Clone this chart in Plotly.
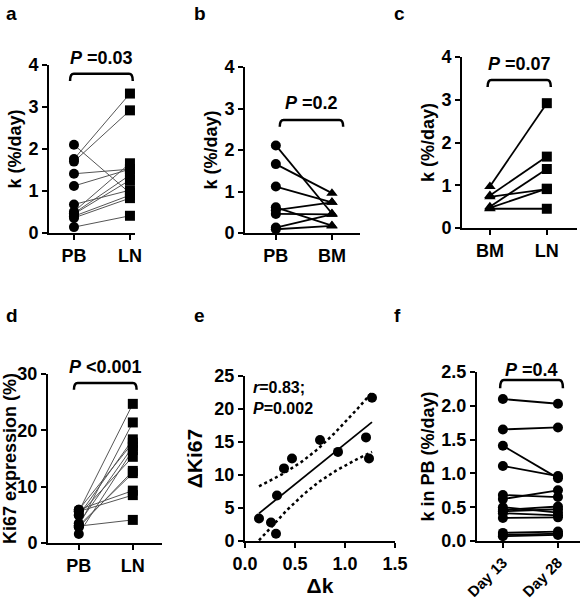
import numpy as np
import plotly.graph_objects as go

W, H = 586, 600

# ---------------- data ----------------
# a: k (%/day) PB vs LN
a_pb = [2.10, 1.76, 1.70, 1.41, 1.12, 0.68, 0.51, 0.47, 0.45, 0.40, 0.36, 0.14]
a_ln = [0.95, 3.32, 2.92, 1.52, 1.52, 1.02, 1.66, 1.38, 1.26, 0.90, 0.83, 0.41]
a_cats = ["PB", "LN"]
# b: PB vs BM
b_pb = [2.11, 1.66, 1.12, 0.62, 0.55, 0.46, 0.13, 0.09]
b_bm = [0.47, 0.96, 0.74, 0.18, 0.74, 0.45, 0.45, 0.17]
b_cats = ["PB", "BM"]
# c: BM vs LN
c_bm = [0.97, 0.76, 0.73, 0.50, 0.47, 0.45]
c_ln = [2.92, 1.67, 0.91, 1.38, 0.92, 0.45]
c_cats = ["BM", "LN"]
# d: Ki67 expression (%) PB vs LN
d_pb = [5.6, 3.0, 4.9, 5.9, 3.5, 5.0, 2.8, 3.1, 5.9, 5.6, 3.0, 1.6]
d_ln = [24.7, 21.4, 18.4, 17.8, 17.1, 15.3, 12.8, 12.4, 9.3, 8.5, 4.1, 16.5]
d_cats = ["PB", "LN"]
# e: delta k vs delta Ki67
e_dk = [0.14, 0.26, 0.31, 0.32, 0.39, 0.47, 0.75, 0.93, 1.21, 1.24, 1.27]
e_dki67 = [3.4, 2.8, 1.1, 6.9, 11.0, 12.5, 15.3, 13.5, 15.7, 12.5, 21.7]
# f: k in PB day 13 vs day 28
f_d13 = [2.10, 1.65, 1.41, 1.11, 0.68, 0.62, 0.50, 0.46, 0.44, 0.41, 0.34, 0.12, 0.09, 0.07]
f_d28 = [2.03, 1.68, 0.93, 0.96, 0.65, 0.75, 0.42, 0.51, 0.47, 0.38, 0.35, 0.14, 0.11, 0.09]
f_cats = ["Day 13", "Day 28"]

FONT = "Liberation Sans"

fig = go.Figure()

def sfx(i):
    return "" if i == 1 else str(i)

def px2paper_x(x0, x1):
    return [x0 / W, x1 / W]

def px2paper_y(ytop, ybot):
    return [1 - ybot / H, 1 - ytop / H]

axis_common = dict(showline=True, linewidth=2, linecolor="black", ticks="outside",
                   ticklen=5, tickwidth=2, tickcolor="black", showgrid=False,
                   zeroline=False, automargin=False,
                   tickfont=dict(family=FONT, size=18, color="black", weight="bold"))

def add_axes(i, xpx, ypx, xrange, yrange, ytickvals, ytitle, xcats=None, xtickangle=0,
             yfmt=None, xtickvals=None, xfmt=None, ystand=2, xtitle=None, ytsize=18,
             ytweight="bold"):
    s = sfx(i)
    xa = dict(axis_common, domain=px2paper_x(*xpx), range=xrange, anchor=f"y{s}")
    if xcats is not None:
        xa.update(tickmode="array", tickvals=list(range(len(xcats))), ticktext=xcats,
                  tickangle=xtickangle)
    else:
        xa.update(tickmode="array", tickvals=xtickvals, tickformat=xfmt)
    if xtitle:
        xa.update(title=dict(text=xtitle, font=dict(family=FONT, size=21, color="black",
                                                    weight="bold"), standoff=4))
    ya = dict(axis_common, domain=px2paper_y(*ypx), range=yrange, anchor=f"x{s}",
              tickmode="array", tickvals=ytickvals,
              title=dict(text=ytitle, font=dict(family=FONT, size=ytsize, color="black",
                                                weight=ytweight),
                         standoff=ystand))
    if yfmt:
        ya.update(tickformat=yfmt)
    fig.layout[f"xaxis{s}"] = xa
    fig.layout[f"yaxis{s}"] = ya

def paired(i, v0, v1, sym0, sym1, lw, lcol, msize=10):
    s = sfx(i)
    xs, ys = [], []
    for p, q in zip(v0, v1):
        xs += [0, 1, None]
        ys += [p, q, None]
    fig.add_trace(go.Scatter(x=xs, y=ys, mode="lines", line=dict(color=lcol, width=lw),
                             xaxis=f"x{s}", yaxis=f"y{s}", showlegend=False, hoverinfo="skip",
                             cliponaxis=False))
    fig.add_trace(go.Scatter(x=[0] * len(v0), y=v0, mode="markers",
                             marker=dict(symbol=sym0, size=msize, color="black"),
                             xaxis=f"x{s}", yaxis=f"y{s}", showlegend=False, cliponaxis=False))
    fig.add_trace(go.Scatter(x=[1] * len(v1), y=v1, mode="markers",
                             marker=dict(symbol=sym1, size=msize, color="black"),
                             xaxis=f"x{s}", yaxis=f"y{s}", showlegend=False, cliponaxis=False))

shapes = []
annos = []

def bracket(i, yr, x0, x1, ytop, ylow, text, ytext):
    s = sfx(i)
    dx = (x1 - x0) * 0.06
    path = (f"M {x0},{ylow} Q {x0},{ytop} {x0+dx},{ytop} L {x1-dx},{ytop} "
            f"Q {x1},{ytop} {x1},{ylow}")
    shapes.append(dict(type="path", path=path, xref=f"x{s}", yref=f"y{s}",
                       line=dict(color="black", width=2.5)))
    annos.append(dict(text=text, x=(x0 + x1) / 2, y=(ytext - yr[0]) / (yr[1] - yr[0]),
                      xref=f"x{s}", yref=f"y{s} domain",
                      showarrow=False, font=dict(family=FONT, size=18, color="black"),
                      xanchor="center", yanchor="middle"))

# panel a
ra = [0, 4]
add_axes(1, (49, 135), (65, 233), [-0.446, 1.09], ra, [0, 1, 2, 3, 4], "k (%/day)", a_cats)
paired(1, a_pb, a_ln, "circle", "square", 1, "#555555")
bracket(1, ra, -0.07, 1.05, 3.79, 3.62, "<b><i>P</i> =0.03</b>", 4.17)

# panel b
rb = [0, 4]
add_axes(2, (245, 360), (67, 233), [-0.55, 1.5], rb, [0, 1, 2, 3, 4], "k (%/day)", b_cats)
paired(2, b_pb, b_bm, "circle", "triangle-up", 1.8, "black")
bracket(2, rb, 0.07, 1.2, 2.72, 2.56, "<b><i>P</i> =0.2</b>", 3.13)

# panel c
rc = [0, 4]
add_axes(3, (462, 577), (57, 228), [-0.49, 1.53], rc, [0, 1, 2, 3, 4], "k (%/day)", c_cats)
paired(3, c_bm, c_ln, "triangle-up", "square", 1.8, "black")
bracket(3, rc, -0.04, 1.07, 3.46, 3.3, "<b><i>P</i> =0.07</b>", 3.83)

# panel d
rd = [0, 30]
add_axes(4, (48, 162), (374, 543), [-0.57, 1.54], rd, [0, 10, 20, 30],
         "Ki67 expression (%)", d_cats, ystand=0)
paired(4, d_pb, d_ln, "circle", "square", 1, "#555555")
bracket(4, rd, -0.09, 1.07, 28.4, 27.2, "<b><i>P</i> <0.001</b>", 31.3)

# panel e
re_ = [0, 25]
add_axes(5, (245, 395), (376, 541), [0, 1.5], re_, [0, 5, 10, 15, 20, 25], "ΔKi67",
         xtickvals=[0, 0.5, 1.0, 1.5], xfmt=".1f", xtitle="Δk", ytsize=21, ytweight="bold",
         ystand=6)
x = np.array(e_dk)
y = np.array(e_dki67)
n = len(x)
slope, intercept = np.polyfit(x, y, 1)
resid = y - (slope * x + intercept)
s_res = np.sqrt(np.sum(resid ** 2) / (n - 2))
sxx = np.sum((x - x.mean()) ** 2)
tval = 2.262  # t(0.975, df=9)
xf = np.linspace(x.min(), x.max(), 60)
yf = slope * xf + intercept
half = tval * s_res * np.sqrt(1 / n + (xf - x.mean()) ** 2 / sxx)
fig.add_trace(go.Scatter(x=xf, y=yf + half, mode="lines", line=dict(color="black", width=2.5, dash="dot"),
                         xaxis="x5", yaxis="y5", showlegend=False, hoverinfo="skip"))
fig.add_trace(go.Scatter(x=xf, y=yf - half, mode="lines", line=dict(color="black", width=2.5, dash="dot"),
                         xaxis="x5", yaxis="y5", showlegend=False, hoverinfo="skip"))
fig.add_trace(go.Scatter(x=[x.min(), x.max()], y=[slope * x.min() + intercept, slope * x.max() + intercept],
                         mode="lines", line=dict(color="black", width=1.8),
                         xaxis="x5", yaxis="y5", showlegend=False, hoverinfo="skip"))
fig.add_trace(go.Scatter(x=e_dk, y=e_dki67, mode="markers", marker=dict(symbol="circle", size=10, color="black"),
                         xaxis="x5", yaxis="y5", showlegend=False, cliponaxis=False))
annos.append(dict(text="<b><i>r</i>=0.83;<br><i>P</i>=0.002</b>", x=0.06, y=24.8, xref="x5", yref="y5",
                  showarrow=False, xanchor="left", yanchor="top", align="left",
                  font=dict(family=FONT, size=16, color="black")))

# panel f
rf = [0, 2.5]
add_axes(6, (477, 580), (372, 541), [-0.47, 1.40], rf, [0, 0.5, 1.0, 1.5, 2.0, 2.5],
         "k in PB (%/day)", f_cats, xtickangle=-45, yfmt=".1f")
fig.layout.xaxis6.tickfont.size = 15
paired(6, f_d13, f_d28, "circle", "circle", 1.8, "black")
bracket(6, rf, -0.05, 1.09, 2.38, 2.26, "<b><i>P</i> =0.4</b>", 2.53)

# panel letters
for lab, xp, yp in [("a", 4, 14), ("b", 192, 14), ("c", 392, 14),
                    ("d", 4, 315), ("e", 192, 315), ("f", 392, 315)]:
    annos.append(dict(text=f"<b>{lab}</b>", x=xp / W, y=1 - yp / H, xref="paper", yref="paper",
                      showarrow=False, xanchor="left", yanchor="middle",
                      font=dict(family=FONT, size=19, color="black")))

fig.update_layout(template="none", width=W, height=H, margin=dict(l=0, r=0, t=0, b=0),
                  plot_bgcolor="white", paper_bgcolor="white",
                  shapes=shapes, annotations=annos, showlegend=False)

fig.write_html("out.html", config={"displayModeBar": False},
               post_script="document.body.style.margin='0';document.body.style.overflow='hidden';")
